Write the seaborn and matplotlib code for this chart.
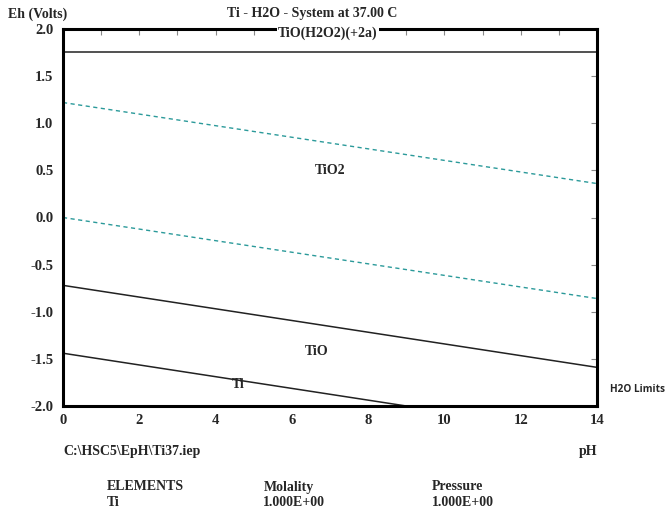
import pandas as pd
import matplotlib
matplotlib.use("Agg")
import matplotlib.pyplot as plt
import seaborn as sb

sb.set_style("white")
plt.rcParams["font.family"] = ["Liberation Serif", "DejaVu Serif"]
plt.rcParams["font.weight"] = "bold"

# boundary lines (pH, Eh)
tio2_aq_ph = [0, 14]
tio2_aq_eh = [1.76, 1.76]
o2_ph = [0, 14]
o2_eh = [1.22, 0.36]
h2_ph = [0, 14]
h2_eh = [0.0, -0.86]
tio_tio2_ph = [0, 14]
tio_tio2_eh = [-0.72, -1.59]
ti_tio_ph = [0, 9.0]
ti_tio_eh = [-1.44, -2.0]

# species labels
species = ["TiO(H2O2)(+2a)", "TiO2", "TiO", "Ti"]
species_ph = [6.95, 7.0, 6.65, 4.6]
species_eh = [1.96, 0.50, -1.42, -1.77]

x_ticks = [0, 2, 4, 6, 8, 10, 12, 14]
y_ticks = [2.0, 1.5, 1.0, 0.5, 0.0, -0.5, -1.0, -1.5, -2.0]

fig = plt.figure(figsize=(6.72, 5.16), dpi=100)
ax = fig.add_axes([63 / 672, 1 - 406 / 516, 534 / 672, 377 / 516])

solid = [(tio2_aq_ph, tio2_aq_eh), (tio_tio2_ph, tio_tio2_eh), (ti_tio_ph, ti_tio_eh)]
for ph, eh in solid:
    df = pd.DataFrame({"pH": ph, "Eh": eh})
    sb.lineplot(data=df, x="pH", y="Eh", ax=ax, color="#222222", linewidth=1.1)

for ph, eh in [(o2_ph, o2_eh), (h2_ph, h2_eh)]:
    df = pd.DataFrame({"pH": ph, "Eh": eh})
    sb.lineplot(data=df, x="pH", y="Eh", ax=ax, color="#2b9a9a", linewidth=1.0,
                linestyle=(0, (3, 2.5)))

ax.set_xlim(0, 14)
ax.set_ylim(-2, 2)
ax.set_xticks(x_ticks)
ax.set_xticks(range(15), minor=True)
ax.set_yticks(y_ticks)
ax.set_xticklabels([str(t) for t in x_ticks], fontsize=10.5, fontweight="bold")
ax.set_yticklabels(["%.1f" % t for t in y_ticks], fontsize=10.5, fontweight="bold")
ax.tick_params(axis="both", which="both", direction="in", top=True, right=True,
               length=4, width=0.8, color="#888888", labelright=False, labeltop=False)
ax.tick_params(axis="x", which="major", pad=6)
ax.tick_params(axis="y", which="major", pad=7)
ax.set_xlabel("")
ax.set_ylabel("")
for s in ax.spines.values():
    s.set_visible(True)
    s.set_linewidth(2.2)
    s.set_color("black")

for name, ph, eh in zip(species, species_ph, species_eh):
    bg = dict(facecolor="white", edgecolor="none", pad=1) if name.startswith("TiO(") else None
    ax.text(ph, eh, name, ha="center", va="center", fontsize=10, fontweight="bold",
            bbox=bg, zorder=5)

fig.text(8 / 672, 1 - 14 / 516, "Eh (Volts)", fontsize=10, fontweight="bold", va="center")
fig.text(312 / 672, 1 - 14 / 516, "Ti - H2O - System at 37.00 C", fontsize=10,
         fontweight="bold", ha="center", va="center")
fig.text(610 / 672, 1 - 390 / 516, "H2O Limits", fontsize=7.2, fontweight="bold",
         family="Open Sans", va="center")
fig.text(63 / 672, 1 - 452 / 516, "C:\\HSC5\\EpH\\Ti37.iep", fontsize=10,
         fontweight="bold", va="center")
fig.text(597 / 672, 1 - 452 / 516, "pH", fontsize=10, fontweight="bold", ha="right", va="center")
fig.text(107 / 672, 1 - 487 / 516, "ELEMENTS", fontsize=10, fontweight="bold", va="center")
fig.text(107 / 672, 1 - 503 / 516, "Ti", fontsize=10, fontweight="bold", va="center")
fig.text(264 / 672, 1 - 487 / 516, "Molality", fontsize=10, fontweight="bold", va="center")
fig.text(263 / 672, 1 - 503 / 516, "1.000E+00", fontsize=10, fontweight="bold", va="center")
fig.text(432 / 672, 1 - 487 / 516, "Pressure", fontsize=10, fontweight="bold", va="center")
fig.text(432 / 672, 1 - 503 / 516, "1.000E+00", fontsize=10, fontweight="bold", va="center")

fig.savefig("out.png", dpi=100)
